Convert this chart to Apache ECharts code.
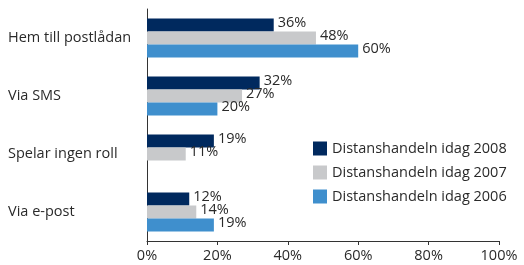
<!DOCTYPE html>
<html>
<head>
<meta charset="utf-8">
<script src="https://cdn.jsdelivr.net/npm/echarts@6/dist/echarts.min.js"></script>
<style>
  html, body { margin: 0; padding: 0; background: #fff; }
  #chart { width: 524px; height: 265px; }
</style>
</head>
<body>
<div id="chart"></div>
<script>
const categories = ['Hem till postlådan', 'Via SMS', 'Spelar ingen roll', 'Via e-post']
const seriesNames = ['Distanshandeln idag 2008', 'Distanshandeln idag 2007', 'Distanshandeln idag 2006']
const values2008 = [36, 32, 19, 12]
const values2007 = [48, 27, 11, 14]
const values2006 = [60, 20, null, 19]
const xTicks = [0, 20, 40, 60, 80, 100]

const colors = ['#00295e', '#c8c9cb', '#3f8fcd']
const font = 'Open Sans'
const fs = 14.5

const chart = echarts.init(document.getElementById('chart'))

const makeSeries = (name, data, color) => ({
  name,
  type: 'bar',
  data,
  barGap: '0%',
  barCategoryGap: '33%',
  itemStyle: { color },
  label: {
    show: true,
    position: 'right',
    distance: 4,
    offset: [0, -2],
    formatter: p => p.value + '%',
    color: '#2a2a2a',
    fontFamily: font,
    fontSize: fs
  }
})

const option = {
  animation: false,
  grid: { left: 147, right: 25, top: 9, bottom: 24 },
  legend: {
    orient: 'vertical',
    left: 308,
    top: 136,
    itemWidth: 14,
    itemHeight: 14,
    itemGap: 9,
    icon: 'rect',
    data: seriesNames,
    textStyle: { fontFamily: font, fontSize: fs, color: '#2a2a2a' }
  },
  xAxis: {
    type: 'value',
    min: xTicks[0],
    max: xTicks[xTicks.length - 1],
    interval: 20,
    splitLine: { show: false },
    axisLine: { show: true, lineStyle: { color: '#333' } },
    axisTick: { show: true, length: 4, lineStyle: { color: '#333' } },
    axisLabel: {
      formatter: v => v + '%',
      fontFamily: font,
      fontSize: fs,
      color: '#2a2a2a',
      margin: 7
    }
  },
  yAxis: {
    type: 'category',
    data: categories,
    inverse: true,
    axisLine: { lineStyle: { color: '#333' } },
    axisTick: { length: 4, lineStyle: { color: '#333' } },
    axisLabel: {
      align: 'left',
      margin: 139,
      fontFamily: font,
      fontSize: fs,
      color: '#2a2a2a'
    }
  },
  series: [
    makeSeries(seriesNames[0], values2008, colors[0]),
    makeSeries(seriesNames[1], values2007, colors[1]),
    makeSeries(seriesNames[2], values2006, colors[2])
  ]
}

chart.setOption(option)
</script>
</body>
</html>
